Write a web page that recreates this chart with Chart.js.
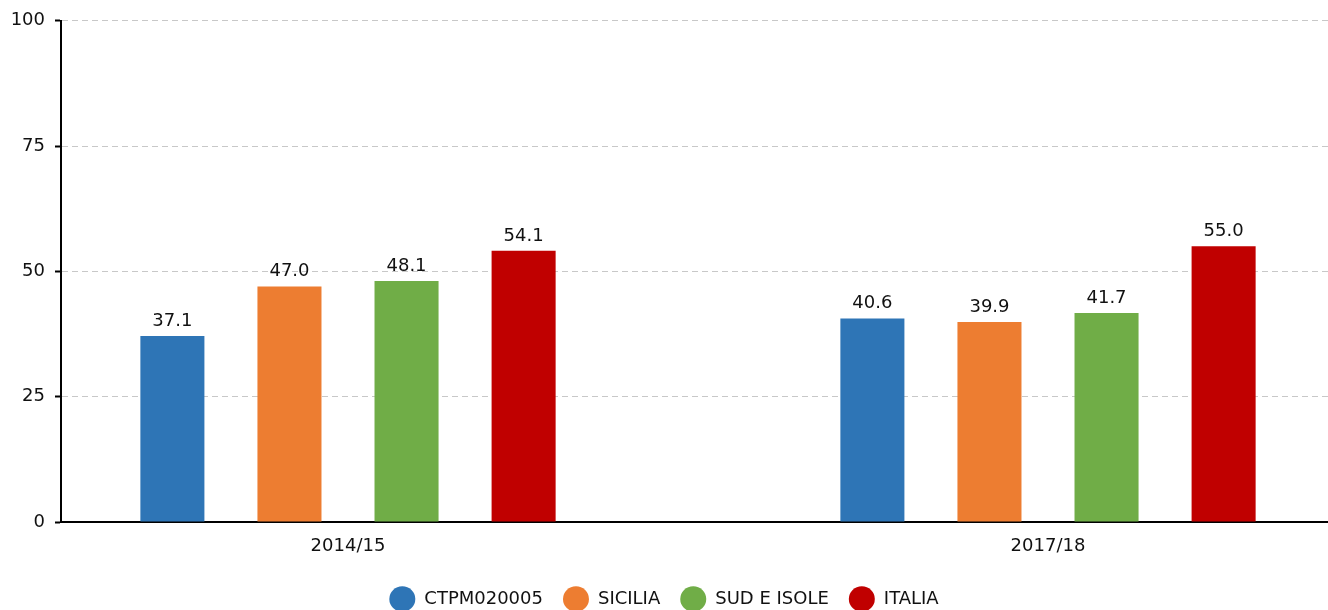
<!DOCTYPE html>
<html>
<head>
<meta charset="utf-8">
<script src="https://cdn.jsdelivr.net/npm/chart.js@4.4.1/dist/chart.umd.min.js"></script>
<style>
    html, body { margin: 0; padding: 0; background: #fff; }
    #wrap { width: 1328px; height: 610px; position: relative; }
</style>
</head>
<body>
<div id="wrap"><canvas id="chart"></canvas></div>
<script>
// Data
const categories = ['2014/15', '2017/18'];
const seriesNames = ['CTPM020005', 'SICILIA', 'SUD E ISOLE', 'ITALIA'];
const seriesColors = ['#2E75B6', '#ED7D31', '#70AD47', '#C00000'];
const ctpm = [37.1, 40.6];
const sicilia = [47.0, 39.9];
const sudIsole = [48.1, 41.7];
const italia = [54.1, 55.0];
const yTicks = [0, 25, 50, 75, 100];

(function() {
    'use strict';

    const FONT = "'DejaVu Sans', sans-serif";
    const seriesValues = [ctpm, sicilia, sudIsole, italia];

    // value labels above each bar
    const valueLabels = {
        id: 'valueLabels',
        afterDatasetsDraw(chart) {
            const ctx = chart.ctx;
            ctx.save();
            ctx.font = '18px ' + FONT;
            ctx.fillStyle = '#111';
            ctx.textAlign = 'center';
            ctx.textBaseline = 'bottom';
            chart.data.datasets.forEach((ds, i) => {
                chart.getDatasetMeta(i).data.forEach((bar, j) => {
                    ctx.fillText(ds.data[j].y.toFixed(1), bar.x, bar.y - 6);
                });
            });
            ctx.restore();
        }
    };

    const datasets = seriesNames.map((name, i) => ({
        label: name,
        data: seriesValues[i].map((v, j) => ({ x: j, y: v })),
        backgroundColor: seriesColors[i],
        borderWidth: 0,
        categoryPercentage: 0.669,
        barPercentage: 0.547
    }));

    const config = {
        type: 'bar',
        data: { datasets: datasets },
        options: {
            responsive: true,
            maintainAspectRatio: false,
            animation: false,
            layout: { padding: { top: 0, right: 0, left: 0, bottom: -8 } },
            plugins: {
                legend: {
                    position: 'bottom',
                    labels: {
                        usePointStyle: true,
                        pointStyle: 'circle',
                        pointStyleWidth: 26,
                        color: '#111',
                        padding: 20,
                        font: { size: 18, family: FONT }
                    }
                },
                tooltip: { enabled: false }
            },
            scales: {
                x: {
                    type: 'linear',
                    min: -0.41,
                    max: 1.4,
                    offset: false,
                    bounds: 'data',
                    afterBuildTicks: function(scale) {
                        scale.ticks = categories.map((c, i) => ({ value: i }));
                    },
                    afterFit: function(scale) { scale.height = 48; },
                    grid: { display: false, drawTicks: false, offset: false },
                    border: { display: true, color: '#000', width: 2 },
                    ticks: {
                        padding: 14,
                        color: '#111',
                        font: { size: 18, family: FONT },
                        callback: function(value) { return categories[value]; }
                    }
                },
                y: {
                    min: 0,
                    max: 100,
                    afterBuildTicks: function(scale) {
                        scale.ticks = yTicks.map(v => ({ value: v }));
                    },
                    afterFit: function(scale) { scale.width = 61; },
                    grid: {
                        color: '#c8c8c8',
                        lineWidth: 1,
                        tickColor: '#000',
                        tickLength: 6,
                        tickWidth: 2,
                        tickBorderDash: []
                    },
                    border: { display: true, color: '#000', width: 2, dash: [6, 4] },
                    ticks: {
                        padding: 10,
                        color: '#111',
                        font: { size: 18, family: FONT }
                    }
                }
            }
        },
        plugins: [valueLabels]
    };

    new Chart(document.getElementById('chart'), config);
})();
</script>
</body>
</html>
